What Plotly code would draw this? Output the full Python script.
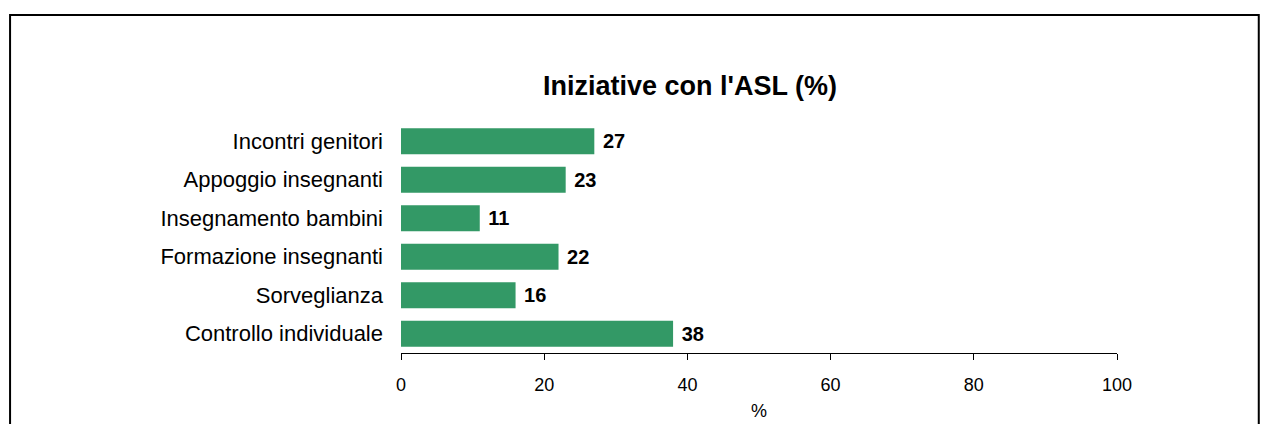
import plotly.graph_objects as go

# data, top to bottom as in the chart
categories = [
    "Incontri genitori",
    "Appoggio insegnanti",
    "Insegnamento bambini",
    "Formazione insegnanti",
    "Sorveglianza",
    "Controllo individuale",
]
values = [27, 23, 11, 22, 16, 38]
x_ticks = [0, 20, 40, 60, 80, 100]

FONT = "Liberation Sans, Arial, sans-serif"
GREEN = "rgb(51,153,102)"

fig = go.Figure()
fig.add_trace(
    go.Bar(
        x=values,
        y=categories,
        orientation="h",
        marker=dict(color=GREEN, line=dict(width=0)),
        width=0.67,
        texttemplate=" %{x}",
        textposition="outside",
        textfont=dict(family=FONT, size=20, color="black", weight="bold"),
        cliponaxis=False,
    )
)

fig.update_layout(
    width=1270,
    height=424,
    margin=dict(l=393, r=161, t=114, b=79),
    paper_bgcolor="white",
    plot_bgcolor="white",
    showlegend=False,
    font=dict(family=FONT, size=18, color="black"),
    xaxis=dict(
        range=[0, 100],
        tickvals=x_ticks,
        showgrid=False,
        zeroline=False,
        showline=True,
        linecolor="black",
        linewidth=1,
        ticks="outside",
        ticklen=6,
        tickcolor="black",
        tickfont=dict(size=18),
        ticklabelstandoff=9,
        title=dict(text="%", font=dict(size=18), standoff=10),
    ),
    yaxis=dict(
        categoryorder="array",
        categoryarray=categories[::-1],
        showgrid=False,
        zeroline=False,
        showline=False,
        ticks="",
        tickfont=dict(size=22),
        ticklabelstandoff=17,
    ),
    annotations=[
        dict(
            text="<b>Iniziative con l'ASL (%)</b>",
            xref="paper",
            yref="paper",
            x=0.404,
            y=1.156,
            xanchor="center",
            yanchor="middle",
            showarrow=False,
            font=dict(size=27, color="black"),
        )
    ],
    shapes=[
        dict(
            type="rect",
            xref="paper",
            yref="paper",
            x0=-0.546,
            x1=1.198,
            y0=-0.4,
            y1=1.463,
            line=dict(color="black", width=2),
            fillcolor="rgba(0,0,0,0)",
            layer="below",
        )
    ],
)

fig.write_html("out.html")
